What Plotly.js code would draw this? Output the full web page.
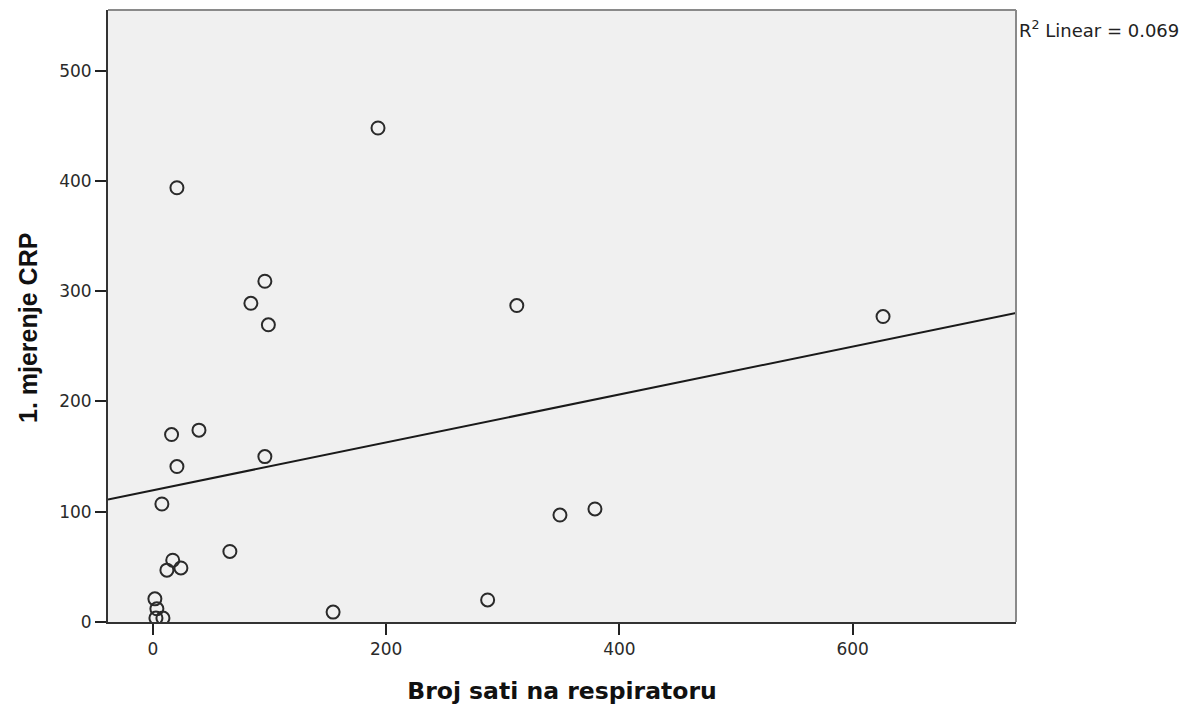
<!DOCTYPE html>
<html>
<head>
<meta charset="utf-8">
<script src="https://cdn.plot.ly/plotly-3.0.1.min.js"></script>
<style>html,body{margin:0;padding:0;background:#fff;}#chart{width:1191px;height:711px;}</style>
</head>
<body>
<div id="chart"></div>
<script>
const hoursOnRespirator = [20.6, 193, 96, 84, 99, 312, 626, 16, 39.5, 20.6, 96, 7.7, 349, 379, 66, 17, 12, 24, 1.7, 3.4, 8.6, 2.6, 154.5, 287];
const crpFirst = [393.8, 448, 309, 289, 269.5, 287, 277, 170, 174, 141, 150, 107, 97, 102.5, 64, 56, 47, 49, 21, 12, 3.6, 3.6, 9, 20];
const xTickVals = [0, 200, 400, 600];
const yTickVals = [0, 100, 200, 300, 400, 500];
const xRange = [-38.5, 740];
const yRange = [0, 555];

// least squares fit
const n = hoursOnRespirator.length;
const mx = hoursOnRespirator.reduce((a,b)=>a+b,0)/n;
const my = crpFirst.reduce((a,b)=>a+b,0)/n;
let sxy=0, sxx=0, syy=0;
for (let i=0;i<n;i++){const dx=hoursOnRespirator[i]-mx, dy=crpFirst[i]-my; sxy+=dx*dy; sxx+=dx*dx; syy+=dy*dy;}
const slope = sxy/sxx, intercept = my - slope*mx;
const r2 = (sxy*sxy)/(sxx*syy);

const tickFont = {size:17, family:'DejaVu Sans, Verdana, sans-serif', color:'#2a2a2a'};

const traces = [
  {x: xRange, y: xRange.map(v=>intercept+slope*v), mode:'lines', line:{color:'#1a1a1a', width:2}, hoverinfo:'skip'},
  {x: hoursOnRespirator, y: crpFirst, mode:'markers', marker:{symbol:'circle-open', size:13, color:'#2a2a2a', line:{width:2, color:'#2a2a2a'}}}
];

const layout = {
  width:1191, height:711,
  margin:{l:108, r:175, t:10, b:89},
  paper_bgcolor:'#ffffff', plot_bgcolor:'#f0f0f0',
  showlegend:false,
  font:{family:'DejaVu Sans, Verdana, sans-serif', color:'#222'},
  xaxis:{range:xRange, tickvals:xTickVals, ticktext:xTickVals.map(String), ticks:'outside', ticklen:11, tickwidth:2, tickcolor:'#222',
         showgrid:false, zeroline:false, showline:true, linecolor:'#333', linewidth:2,
         tickfont:tickFont,
         title:{text:'Broj sati na respiratoru', font:{size:23.5, family:'DejaVu Sans, Verdana, sans-serif', weight:'bold', color:'#111'}, standoff:24}},
  yaxis:{range:yRange, tickvals:yTickVals, ticktext:yTickVals.map(String), ticks:'outside', ticklen:11, tickwidth:2, tickcolor:'#222',
         showgrid:false, zeroline:false, showline:true, linecolor:'#333', linewidth:2,
         tickfont:tickFont},
  shapes:[
    {type:'line', xref:'paper', yref:'paper', x0:0, x1:1, y0:1, y1:1, line:{color:'#8a8a8a', width:2}},
    {type:'line', xref:'paper', yref:'paper', x0:1, x1:1, y0:0, y1:1, line:{color:'#8a8a8a', width:2}}
  ],
  annotations:[
    {xref:'paper', yref:'paper', x:1.001, y:1, xanchor:'left', yanchor:'top', yshift:-5, showarrow:false,
     text:'R<sup>2</sup> Linear = '+r2.toFixed(3), font:{size:18, family:'DejaVu Sans, Verdana, sans-serif', color:'#222'}},
    {xref:'paper', yref:'paper', x:0, y:0.5, xshift:-80, yshift:-12, xanchor:'center', yanchor:'middle', textangle:-90, showarrow:false,
     text:'1. mjerenje CRP', font:{size:25, family:'Liberation Sans, Arial, sans-serif', weight:'bold', color:'#111'}}
  ]
};
Plotly.newPlot('chart', traces, layout, {displayModeBar:false, staticPlot:true});
</script>
</body>
</html>
